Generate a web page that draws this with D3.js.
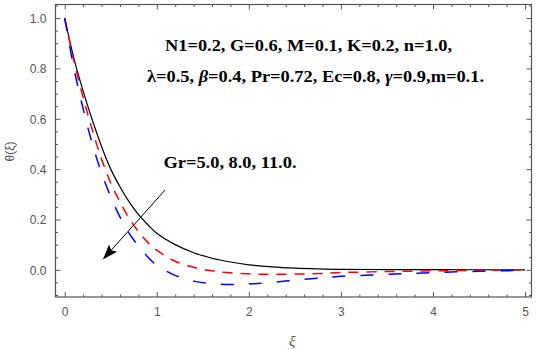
<!DOCTYPE html>
<html>
<head>
<meta charset="utf-8">
<script src="https://cdn.jsdelivr.net/npm/d3@7"></script>
<style>
  html, body { margin: 0; padding: 0; background: #fff; }
  svg { display: block; }
</style>
</head>
<body>
<script>
// ---- data ----
const xi = [0, 0.1, 0.2, 0.3, 0.4, 0.5, 0.6, 0.7, 0.8, 0.9, 1.0, 1.2, 1.4, 1.6, 1.8, 2.0, 2.25, 2.5, 2.75, 3.0, 3.5, 4.0, 4.5, 5.0];
const thetaGr5  = [1.0, 0.84, 0.71, 0.595, 0.49, 0.40, 0.33, 0.27, 0.22, 0.18, 0.145, 0.10, 0.068, 0.046, 0.031, 0.020, 0.012, 0.007, 0.004, 0.002, 0.001, 0.0005, 0.0002, 0.0];
const thetaGr8  = [1.0, 0.83, 0.685, 0.555, 0.44, 0.345, 0.27, 0.205, 0.152, 0.11, 0.078, 0.034, 0.010, -0.004, -0.012, -0.016, -0.018, -0.017, -0.015, -0.011, -0.007, -0.004, -0.002, 0.0];
const thetaGr11 = [1.0, 0.80, 0.64, 0.50, 0.385, 0.29, 0.21, 0.145, 0.095, 0.052, 0.018, -0.022, -0.045, -0.055, -0.058, -0.056, -0.050, -0.041, -0.033, -0.026, -0.018, -0.011, -0.006, -0.002];
const seriesColors = ["#000000", "#ff0000", "#0000ff"];
const xTicks = [0, 1, 2, 3, 4, 5];
const yTicks = [0.0, 0.2, 0.4, 0.6, 0.8, 1.0];
const paramLine1 = "N1=0.2, G=0.6, M=0.1, K=0.2, n=1.0,";
const grLabel = "Gr=5.0, 8.0, 11.0.";

const W = 536, H = 350;
const svg = d3.select("body").append("svg").attr("width", W).attr("height", H);

const x = d3.scaleLinear().domain([-0.1, 5.07]).range([55.5, 531.5]);
const y = d3.scaleLinear().domain([-0.108, 1.054]).range([297, 4.5]);

const frameColor = "#555";
const labelColor = "#555";

// frame
svg.append("rect")
  .attr("x", x(-0.1)).attr("y", y(1.054))
  .attr("width", x(5.07) - x(-0.1)).attr("height", y(-0.108) - y(1.054))
  .attr("fill", "none").attr("stroke", frameColor).attr("stroke-width", 1.2);

// minor/major tick values
const xMinor = d3.range(0, 5.0001, 0.2).filter(v => Math.abs(v - Math.round(v)) > 1e-6);
const yMinor = d3.range(-0.1, 1.0501, 0.05).filter(v => Math.abs(v * 5 - Math.round(v * 5)) > 1e-6);

const bottom = d3.axisBottom(x).tickValues(xTicks).tickSize(-5).tickFormat(d3.format("d"));
const gB = svg.append("g").attr("transform", `translate(0,${y(-0.108)})`).call(bottom);
gB.select(".domain").remove();
gB.selectAll(".tick line").attr("stroke", frameColor);
gB.selectAll(".tick text").attr("dy", "0").attr("y", 19)
  .attr("fill", labelColor).style("font-family", "Liberation Sans, Arial, sans-serif").style("font-size", "12px");
svg.append("g").attr("transform", `translate(0,${y(-0.108)})`)
  .call(d3.axisBottom(x).tickValues(xMinor).tickSize(-2.5).tickFormat(""))
  .call(g => g.select(".domain").remove())
  .selectAll("line").attr("stroke", frameColor);

// top ticks
svg.append("g").attr("transform", `translate(0,${y(1.054)})`)
  .call(d3.axisTop(x).tickValues(xTicks).tickSize(-5).tickFormat(""))
  .call(g => g.select(".domain").remove())
  .selectAll("line").attr("stroke", frameColor);
svg.append("g").attr("transform", `translate(0,${y(1.054)})`)
  .call(d3.axisTop(x).tickValues(xMinor).tickSize(-2.5).tickFormat(""))
  .call(g => g.select(".domain").remove())
  .selectAll("line").attr("stroke", frameColor);

// left axis
const gL = svg.append("g").attr("transform", `translate(${x(-0.1)},0)`)
  .call(d3.axisLeft(y).tickValues(yTicks).tickSize(-5).tickFormat(d3.format(".1f")));
gL.select(".domain").remove();
gL.selectAll(".tick line").attr("stroke", frameColor);
gL.selectAll(".tick text").attr("x", -9).attr("dy", "0.36em")
  .attr("fill", labelColor).style("font-family", "Liberation Sans, Arial, sans-serif").style("font-size", "12px");
svg.append("g").attr("transform", `translate(${x(-0.1)},0)`)
  .call(d3.axisLeft(y).tickValues(yMinor).tickSize(-2.5).tickFormat(""))
  .call(g => g.select(".domain").remove())
  .selectAll("line").attr("stroke", frameColor);

// right ticks
svg.append("g").attr("transform", `translate(${x(5.07)},0)`)
  .call(d3.axisRight(y).tickValues(yTicks).tickSize(-5).tickFormat(""))
  .call(g => g.select(".domain").remove())
  .selectAll("line").attr("stroke", frameColor);
svg.append("g").attr("transform", `translate(${x(5.07)},0)`)
  .call(d3.axisRight(y).tickValues(yMinor).tickSize(-2.5).tickFormat(""))
  .call(g => g.select(".domain").remove())
  .selectAll("line").attr("stroke", frameColor);

// axis labels
svg.append("text")
  .attr("transform", `translate(14,${y(0.47)}) rotate(-90)`)
  .attr("text-anchor", "middle")
  .attr("fill", labelColor)
  .style("font-family", "Liberation Sans, Arial, sans-serif").style("font-size", "12px")
  .text("θ(ξ)");
svg.append("text")
  .attr("x", x(2.47)).attr("y", 346)
  .attr("text-anchor", "middle")
  .attr("fill", labelColor)
  .style("font-family", "Liberation Serif, Times New Roman, serif").style("font-style", "italic").style("font-size", "15px")
  .text("ξ");

// curves
const plotArea = svg.append("g");
const line = d3.line().x(d => x(d[0])).y(d => y(d[1])).curve(d3.curveCatmullRom.alpha(0.5));
const series = [thetaGr5, thetaGr8, thetaGr11];
const dashes = [null, "10,8", "13,15"];
const widths = [1.2, 1.5, 1.5];
series.forEach((vals, i) => {
  plotArea.append("path")
    .datum(xi.map((v, j) => [v, vals[j]]))
    .attr("d", line)
    .attr("fill", "none")
    .attr("stroke", seriesColors[i])
    .attr("stroke-width", widths[i])
    .attr("stroke-dasharray", dashes[i]);
});

// annotation text
const serif = "Liberation Serif, Times New Roman, serif";
svg.append("text")
  .attr("x", 165).attr("y", 51)
  .attr("textLength", 287).attr("lengthAdjust", "spacingAndGlyphs")
  .style("font-family", serif).style("font-weight", "bold").style("font-size", "16px")
  .text(paramLine1);
const t2 = svg.append("text")
  .attr("x", 147).attr("y", 82)
  .attr("textLength", 337).attr("lengthAdjust", "spacingAndGlyphs")
  .style("font-family", serif).style("font-weight", "bold").style("font-size", "16px");
t2.append("tspan").text("λ=0.5, ");
t2.append("tspan").style("font-style", "italic").text("β");
t2.append("tspan").text("=0.4, Pr=0.72, Ec=0.8, ");
t2.append("tspan").style("font-style", "italic").text("γ");
t2.append("tspan").text("=0.9,m=0.1.");

svg.append("text")
  .attr("x", 163.5).attr("y", 168)
  .attr("textLength", 133).attr("lengthAdjust", "spacingAndGlyphs")
  .style("font-family", serif).style("font-weight", "bold").style("font-size", "17px")
  .text(grLabel);

// arrow
svg.append("defs").append("marker")
  .attr("id", "ah").attr("viewBox", "0 0 15 11").attr("refX", 15).attr("refY", 5.5)
  .attr("markerWidth", 15).attr("markerHeight", 11).attr("markerUnits", "userSpaceOnUse")
  .attr("orient", "auto")
  .append("path").attr("d", "M0,0 L15,5.5 L0,11 L3,5.5 Z").attr("fill", "#000");
svg.append("line")
  .attr("x1", x(1.09)).attr("y1", y(0.317))
  .attr("x2", x(0.417)).attr("y2", y(0.042))
  .attr("stroke", "#000").attr("stroke-width", 1)
  .attr("marker-end", "url(#ah)");
</script>
</body>
</html>
